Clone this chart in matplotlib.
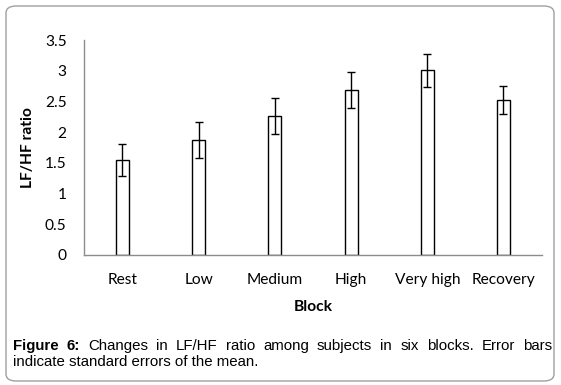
import matplotlib
matplotlib.use("Agg")
import matplotlib.pyplot as plt
from matplotlib.patches import FancyBboxPatch

# Data
blocks = ["Rest", "Low", "Medium", "High", "Very high", "Recovery"]
lfhf_mean = [1.54, 1.87, 2.26, 2.69, 3.01, 2.52]
lfhf_se = [0.26, 0.29, 0.29, 0.29, 0.27, 0.23]
yticks = [0, 0.5, 1, 1.5, 2, 2.5, 3, 3.5]
ytick_labels = ["0", "0.5", "1", "1.5", "2", "2.5", "3", "3.5"]

W, H = 561, 385
FS = 11.2
fig = plt.figure(figsize=(W / 100, H / 100), dpi=100)

# rounded frame round the whole figure
frame = FancyBboxPatch((6 / W, 1 - 381 / H), 548 / W, 375 / H,
                       boxstyle="round,pad=0,rounding_size=0.018",
                       transform=fig.transFigure, fill=False,
                       edgecolor="#a0a0a0", linewidth=1.0)
fig.patches.append(frame)

ax = fig.add_axes([84.3 / W, 1 - 255 / H, (541.6 - 84.3) / W, (255 - 40) / H])
x = range(len(blocks))
ax.bar(x, lfhf_mean, width=0.17, color="white", edgecolor="black", linewidth=1.0,
       yerr=lfhf_se, capsize=3.2, error_kw=dict(elinewidth=1.0, capthick=1.0, ecolor="black"))

ax.set_xlim(-0.5, len(blocks) - 0.5)
ax.set_ylim(0, 3.5)
ax.set_yticks(yticks)
ax.set_yticklabels(ytick_labels, fontfamily="Lato", fontsize=FS)
ax.set_xticks(list(x))
ax.set_xticklabels(blocks, fontfamily="Lato", fontsize=FS)
ax.tick_params(axis="both", length=0)
ax.tick_params(axis="y", pad=12.7)
ax.tick_params(axis="x", pad=13)
for s in ["top", "right"]:
    ax.spines[s].set_visible(False)
for s in ["left", "bottom"]:
    ax.spines[s].set_color("#8c8c8c")
    ax.spines[s].set_linewidth(1.0)

ax.set_xlabel("Block", fontfamily="Lato", fontsize=FS, fontweight="bold", labelpad=9)
fig.text(28 / W, 1 - 147.5 / H, "LF/HF ratio", rotation=90, ha="center", va="center",
         fontfamily="Lato", fontsize=FS, fontweight="bold")

# caption, first line justified
cap_font = dict(fontfamily="Liberation Sans", fontsize=10.8)
line1 = [("Figure", "bold"), ("6:", "bold"), ("Changes", "normal"), ("in", "normal"),
         ("LF/HF", "normal"), ("ratio", "normal"), ("among", "normal"), ("subjects", "normal"),
         ("in", "normal"), ("six", "normal"), ("blocks.", "normal"), ("Error", "normal"),
         ("bars", "normal")]
x0, x1 = 13.0, 552.0
y1 = 1 - 346 / H
fig.canvas.draw()
r = fig.canvas.get_renderer()
words = []
for w, wt in line1:
    t = fig.text(0, y1, w, ha="left", va="center", fontweight=wt, **cap_font)
    words.append(t)
widths = [t.get_window_extent(r).width for t in words]
gap = (x1 - x0 - sum(widths)) / (len(words) - 1)
pos = x0
for t, wd in zip(words, widths):
    t.set_x(pos / W)
    pos += wd + gap
fig.text(x0 / W, 1 - 362 / H, "indicate standard errors of the mean.", ha="left", va="center",
         **cap_font)

fig.savefig("out.png", dpi=100)
